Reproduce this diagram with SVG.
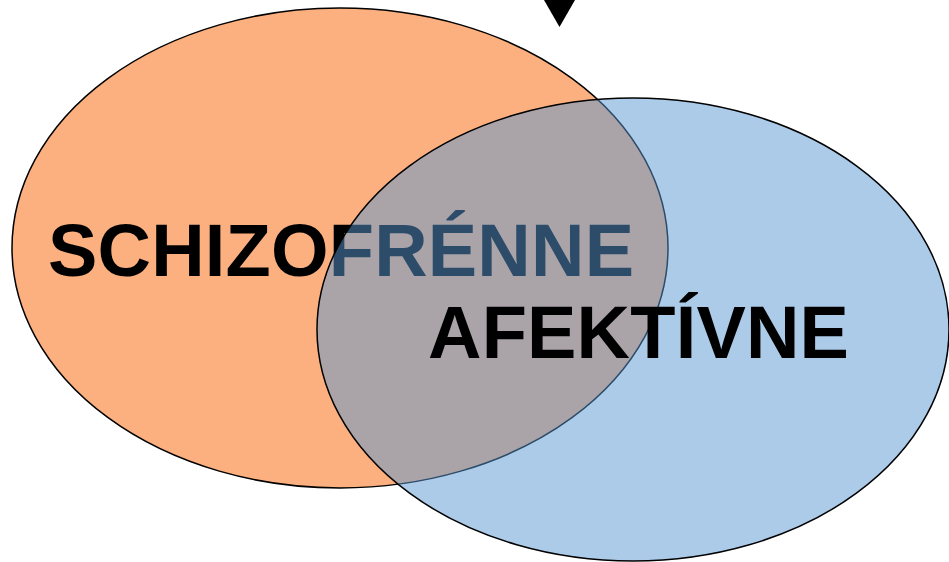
<svg xmlns="http://www.w3.org/2000/svg" width="949" height="562" viewBox="0 0 949 562">
<style>
.lbl{font-family:"Liberation Sans",Arial,sans-serif;font-weight:bold;fill:#000;font-size:74px;letter-spacing:0.2px}
.ring{stroke:#000;stroke-width:1.5}
</style>
<rect width="949" height="562" fill="#fff"/>
<g id="pointer">
<polygon points="544,0 575,0 559.5,27" fill="#000"/>
</g>
<g id="schizofrenne">
<ellipse class="ring" cx="340" cy="248" rx="328" ry="240" fill="#FCB07F"/>
<text class="lbl" x="48" y="276">SCHIZOFRÉNNE</text>
</g>
<g id="afektivne">
<ellipse class="ring" cx="633" cy="329.5" rx="316" ry="231.5" fill="#5797D3" fill-opacity="0.5"/>
<text class="lbl" x="428" y="358">AFEKTÍVNE</text>
</g>
<g id="connectors"></g>
</svg>
